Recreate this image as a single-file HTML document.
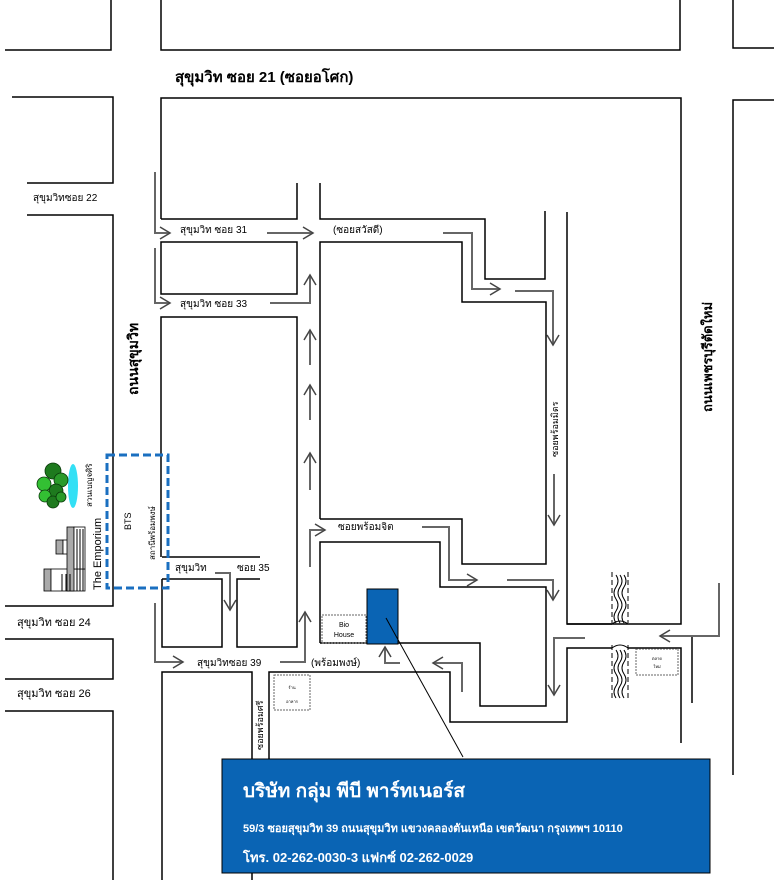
<!DOCTYPE html>
<html><head><meta charset="utf-8"><style>
html,body{margin:0;padding:0;background:#fff;}
svg{display:block;}
text{font-family:"Liberation Sans","Noto Sans CJK SC",sans-serif;fill:#000;}
.r{stroke:#000;stroke-width:1.5;fill:none;}
.a{stroke:#666;stroke-width:2;fill:none;marker-end:url(#ah);}
</style></head><body>
<svg width="774" height="880" viewBox="0 0 774 880" xmlns="http://www.w3.org/2000/svg">
<defs>
<marker id="ah" markerWidth="14" markerHeight="14" refX="11" refY="7" orient="auto" markerUnits="userSpaceOnUse">
<path d="M1,1 L11,7 L1,13" fill="none" stroke="#444" stroke-width="1.5"/>
</marker>
</defs>
<polyline class="r" points="5,50 111,50 111,0"/>
<polyline class="r" points="161,0 161,50 680,50 680,0"/>
<polyline class="r" points="733,0 733,48 774,48"/>
<text x="175" y="82" font-size="15" font-weight="bold">สุขุมวิท ซอย 21 (ซอยอโศก)</text>
<polyline class="r" points="12,97 113,97 113,183 27,183"/>
<text x="33" y="201" font-size="10">สุขุมวิทซอย 22</text>
<polyline class="r" points="27,215 113,215 113,606 5,606"/>
<text x="17" y="626" font-size="11">สุขุมวิท ซอย 24</text>
<polyline class="r" points="5,639 113,639 113,679 5,679"/>
<text x="17" y="697" font-size="11">สุขุมวิท ซอย 26</text>
<polyline class="r" points="5,711 113,711 113,880"/>
<polyline class="r" points="161,219 161,98 681,98 681,624 567,624 567,212"/>
<polyline class="r" points="733,775 733,100 774,100"/>
<polyline class="r" points="161,219 297,219 297,183"/>
<polyline class="r" points="320,183 320,219 485,219 485,279 545,279 545,211"/>
<rect class="r" x="161" y="242" width="136" height="52"/>
<polyline class="r" points="161,557 161,317 297,317 297,647 237,647 237,579 260,579"/>
<polyline class="r" points="162,557 260,557"/>
<polyline class="r" points="162,579 222,579 222,647 162,647 162,579"/>
<polyline class="r" points="320,519 320,242 462,242 462,302 546,302 546,564 462,564 462,519 320,519"/>
<polyline class="r" points="320,643 320,542 440,542 440,587 546,587 546,706 480,706 480,643 320,643"/>
<polyline class="r" points="162,880 162,672 252,672 252,880"/>
<polyline class="r" points="269,760 269,672 450,672 450,722 567,722 567,648 612,648"/>
<polyline class="r" points="628,648 681,648 681,743"/>
<polyline class="r" points="692,635 692,703"/>
<polyline class="r" points="567,624 612,624"/>
<g stroke="#000" stroke-width="1" stroke-dasharray="5,3" fill="none">
<line x1="612" y1="572" x2="612" y2="623"/><line x1="628" y1="572" x2="628" y2="623"/>
<line x1="612" y1="645" x2="612" y2="700"/><line x1="628" y1="645" x2="628" y2="700"/>
</g>
<g stroke="#000" stroke-width="1" fill="none">
<path d="M616,575 q4,6 0,12 q-4,6 0,12 q4,6 0,12 q-4,6 0,12"/>
<path d="M620,575 q4,6 0,12 q-4,6 0,12 q4,6 0,12 q-4,6 0,12"/>
<path d="M624,575 q4,6 0,12 q-4,6 0,12 q4,6 0,12 q-4,6 0,12"/>
<path d="M616,650 q4,6 0,12 q-4,6 0,12 q4,6 0,12 q-4,6 0,12"/>
<path d="M620,650 q4,6 0,12 q-4,6 0,12 q4,6 0,12 q-4,6 0,12"/>
<path d="M624,650 q4,6 0,12 q-4,6 0,12 q4,6 0,12 q-4,6 0,12"/>
<path d="M612,624 q8,-6 16,0"/><path d="M612,648 q8,-6 16,0"/>
</g>
<rect x="636" y="649" width="42" height="26" fill="none" stroke="#666" stroke-dasharray="2,1"/>
<text x="657" y="660" font-size="4" text-anchor="middle" fill="#666">ตลาด</text>
<text x="657" y="668" font-size="4" text-anchor="middle" fill="#666">ใหม่</text>
<polyline class="a" points="155,172 155,233 170,233"/>
<polyline class="a" points="267,233 313,233"/>
<polyline class="a" points="155,248 155,303 170,303"/>
<polyline class="a" points="270,303 310,303 310,275"/>
<polyline class="a" points="310,365 310,330"/>
<polyline class="a" points="310,420 310,385"/>
<polyline class="a" points="310,490 310,453"/>
<polyline class="a" points="443,233 472,233 472,289 500,289"/>
<polyline class="a" points="515,291 553,291 553,345"/>
<polyline class="a" points="554,474 554,525"/>
<polyline class="a" points="310,567 310,530 325,530"/>
<polyline class="a" points="422,527 449,527 449,580 477,580"/>
<polyline class="a" points="507,580 553,580 553,600"/>
<polyline class="a" points="215,573 230,573 230,610"/>
<polyline class="a" points="155,603 155,662 183,662"/>
<polyline class="a" points="280,662 305,662 305,612"/>
<polyline class="a" points="400,663 385,663 385,647"/>
<polyline class="a" points="462,692 462,663 433,663"/>
<polyline class="a" points="585,638 554,638 554,695"/>
<polyline class="a" points="719,583 719,636 660,636"/>
<text x="180" y="233" font-size="10">สุขุมวิท ซอย 31</text>
<text x="333" y="233" font-size="10">(ซอยสวัสดี)</text>
<text x="180" y="307" font-size="10">สุขุมวิท ซอย 33</text>
<text x="175" y="571" font-size="10">สุขุมวิท</text>
<text x="237" y="571" font-size="10">ซอย 35</text>
<text x="197" y="666" font-size="10">สุขุมวิทซอย 39</text>
<text x="311" y="666" font-size="10">(พร้อมพงษ์)</text>
<text x="338" y="530" font-size="10">ซอยพร้อมจิต</text>
<text transform="translate(138,395) rotate(-90)" font-size="14" font-weight="bold">ถนนสุขุมวิท</text>
<text transform="translate(712,412) rotate(-90)" font-size="13" font-weight="bold">ถนนเพชรบุรีตัดใหม่</text>
<text transform="translate(558,457) rotate(-90)" font-size="9">ซอยพร้อมมิตร</text>
<text transform="translate(263,750) rotate(-90)" font-size="9">ซอยพร้อมศรี</text>
<rect x="107" y="455" width="61" height="133" fill="none" stroke="#1a6fc0" stroke-width="3" stroke-dasharray="8,4"/>
<text transform="translate(131,530) rotate(-90)" font-size="9">BTS</text>
<text transform="translate(155,560) rotate(-90)" font-size="8">สถานีพร้อมพงษ์</text>
<text transform="translate(101,590) rotate(-90)" font-size="11">The Emporium</text>
<text transform="translate(92,507) rotate(-90)" font-size="8">สวนเบญจศิริ</text>
<ellipse cx="73" cy="486" rx="5" ry="22" fill="#33e0f5"/>
<g fill="#1e7a1e" stroke="#0a3a0a" stroke-width="0.8">
<circle cx="53" cy="471" r="8"/><circle cx="61" cy="480" r="7" fill="#2a9a2a"/>
<circle cx="44" cy="484" r="7" fill="#33c033"/><circle cx="56" cy="491" r="7"/>
<circle cx="45" cy="496" r="6" fill="#33c033"/><circle cx="53" cy="502" r="6"/>
<circle cx="61" cy="497" r="5" fill="#2a9a2a"/>
</g>
<g stroke="#000" stroke-width="0.8">
<rect x="44" y="569" width="7" height="22" fill="#aaa"/>
<rect x="51" y="569" width="34" height="22" fill="#fff"/>
<rect x="56" y="540" width="7" height="14" fill="#aaa"/>
<rect x="63" y="540" width="10" height="14" fill="#fff"/>
<rect x="67" y="527" width="7" height="64" fill="#aaa"/>
<rect x="74" y="527" width="11" height="42" fill="#fff"/>
</g>
<g stroke="#000" stroke-width="1">
<line x1="77" y1="529" x2="77" y2="591"/><line x1="80" y1="529" x2="80" y2="591"/><line x1="83" y1="529" x2="83" y2="591"/>
<line x1="62" y1="574" x2="62" y2="591"/><line x1="66" y1="574" x2="66" y2="591"/><line x1="70" y1="574" x2="70" y2="591"/>
</g>
<rect x="322" y="615" width="44" height="28" fill="none" stroke="#666" stroke-dasharray="2,1"/>
<text x="344" y="627" font-size="7" text-anchor="middle">Bio</text>
<text x="344" y="637" font-size="7" text-anchor="middle">House</text>
<rect x="367" y="589" width="31" height="55" fill="#0a64b4" stroke="#000" stroke-width="1"/>
<line x1="386" y1="618" x2="463" y2="757" stroke="#000" stroke-width="1"/>
<rect x="274" y="675" width="36" height="35" fill="none" stroke="#666" stroke-dasharray="2,1"/>
<text x="292" y="689" font-size="4" text-anchor="middle">ร้าน</text>
<text x="292" y="703" font-size="4" text-anchor="middle">อาหาร</text>
<rect x="222" y="759" width="488" height="114" fill="#0a64b4" stroke="#000" stroke-width="1"/>
<text x="243" y="797" font-size="19" font-weight="bold" style="fill:#fff">บริษัท กลุ่ม พีบี พาร์ทเนอร์ส</text>
<text x="243" y="832" font-size="11" font-weight="bold" style="fill:#fff">59/3 ซอยสุขุมวิท 39 ถนนสุขุมวิท แขวงคลองตันเหนือ เขตวัฒนา กรุงเทพฯ 10110</text>
<text x="243" y="862" font-size="13" font-weight="bold" style="fill:#fff">โทร. 02-262-0030-3 แฟกซ์ 02-262-0029</text>
</svg>
</body></html>
